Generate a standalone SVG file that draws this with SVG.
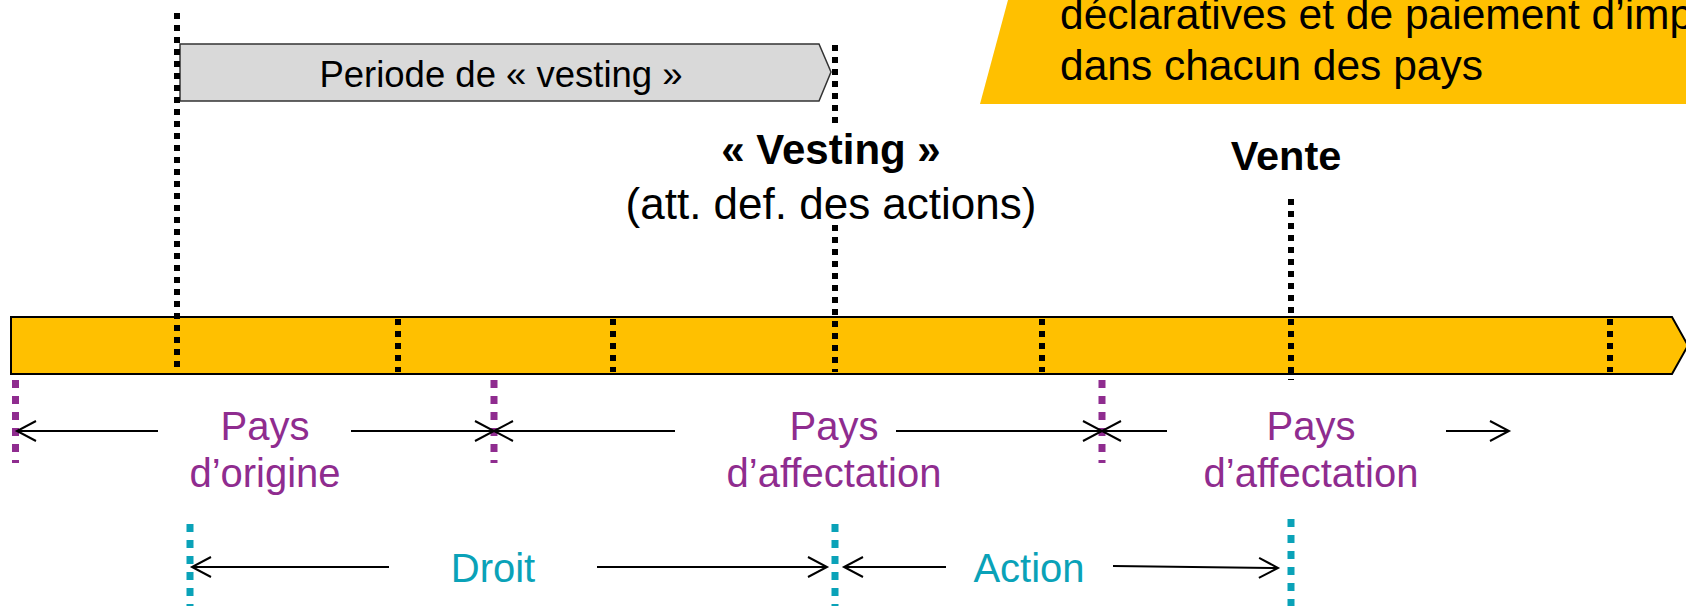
<svg xmlns="http://www.w3.org/2000/svg" width="1686" height="606" viewBox="0 0 1686 606">
<style>
text{font-family:"Liberation Sans",Arial,sans-serif}
.blk{fill:#000}
.pur{fill:#8F2C8F}
.teal{fill:#0AA2B8}
.dotb{stroke:#000;stroke-width:6;stroke-dasharray:6 6;fill:none}
.dotp{stroke:#8F2C8F;stroke-width:7;stroke-dasharray:8 8;fill:none}
.dott{stroke:#0AA2B8;stroke-width:7;stroke-dasharray:8 8;fill:none}
.arr{stroke:#000;stroke-width:2;fill:none;marker-end:url(#ah)}
</style>
<defs>
<marker id="ah" markerUnits="userSpaceOnUse" markerWidth="22" markerHeight="24" refX="20" refY="12" orient="auto" overflow="visible">
<path d="M1,2 L20,12 L1,22" fill="none" stroke="#000" stroke-width="2"/>
</marker>
</defs>
<rect width="1686" height="606" fill="#fff"/>

<g id="note">
<polygon points="1008,0 1686,0 1686,104 980,104" fill="#FFC000"/>
<text x="1060" y="29" font-size="42.5" class="blk">déclaratives et de paiement d’imp</text>
<text x="1060" y="80" font-size="42.5" class="blk">dans chacun des pays</text>
</g>

<g id="period-box">
<polygon points="180,44 819,44 831,72 819,101 180,101" fill="#D9D9D9" stroke="#333" stroke-width="1.5"/>
<text x="501" y="87" font-size="36.5" text-anchor="middle" class="blk">Periode de « vesting »</text>
</g>

<g id="timeline">
<polygon points="11,317 1672,317 1688,345.5 1672,374 11,374" fill="#FFC000" stroke="#000" stroke-width="2"/>
<line class="dotb" x1="398" y1="319" x2="398" y2="372"/>
<line class="dotb" x1="613" y1="319" x2="613" y2="372"/>
<line class="dotb" x1="1042" y1="319" x2="1042" y2="372"/>
<line class="dotb" x1="1610" y1="319" x2="1610" y2="372"/>
</g>

<g id="grant-line">
<line class="dotb" x1="177" y1="13" x2="177" y2="372"/>
</g>

<g id="vesting">
<line class="dotb" x1="835" y1="45" x2="835" y2="123"/>
<line class="dotb" x1="835" y1="225" x2="835" y2="372"/>
<text x="831" y="164" font-size="42" font-weight="bold" text-anchor="middle" class="blk">« Vesting »</text>
<text x="831" y="219" font-size="44" text-anchor="middle" class="blk">(att. def. des actions)</text>
</g>

<g id="vente">
<text x="1286" y="170" font-size="41.5" font-weight="bold" text-anchor="middle" class="blk">Vente</text>
<line class="dotb" x1="1291" y1="199" x2="1291" y2="380"/>
</g>

<g id="country-markers">
<line class="dotp" x1="15.5" y1="380" x2="15.5" y2="463"/>
<line class="dotp" x1="494" y1="380" x2="494" y2="463"/>
<line class="dotp" x1="1102" y1="380" x2="1102" y2="463"/>
</g>

<g id="pays-origine">
<text x="265" y="440" font-size="40" text-anchor="middle" class="pur">Pays</text>
<text x="265" y="487" font-size="40" text-anchor="middle" class="pur">d’origine</text>
</g>
<g id="pays-affectation-1">
<text x="834" y="440" font-size="40" text-anchor="middle" class="pur">Pays</text>
<text x="834" y="487" font-size="40" text-anchor="middle" class="pur">d’affectation</text>
</g>
<g id="pays-affectation-2">
<text x="1311" y="440" font-size="40" text-anchor="middle" class="pur">Pays</text>
<text x="1311" y="487" font-size="40" text-anchor="middle" class="pur">d’affectation</text>
</g>

<g id="asset-markers">
<line class="dott" x1="190" y1="524" x2="190" y2="606"/>
<line class="dott" x1="835" y1="524" x2="835" y2="606"/>
<line class="dott" x1="1291" y1="519" x2="1291" y2="606"/>
</g>

<g id="droit">
<text x="493" y="582" font-size="40" text-anchor="middle" class="teal">Droit</text>
</g>
<g id="action">
<text x="1029" y="582" font-size="40" text-anchor="middle" class="teal">Action</text>
</g>

<g id="connectors">
<line class="arr" x1="158" y1="431" x2="17" y2="431"/>
<line class="arr" x1="351" y1="431" x2="494" y2="431"/>
<line class="arr" x1="675" y1="431" x2="494" y2="431"/>
<line class="arr" x1="896" y1="431" x2="1102" y2="431"/>
<line class="arr" x1="1167" y1="431" x2="1102" y2="431"/>
<line class="arr" x1="1446" y1="431" x2="1509" y2="431"/>
<line class="arr" x1="389" y1="567" x2="192" y2="567"/>
<line class="arr" x1="597" y1="567" x2="827" y2="567"/>
<line class="arr" x1="946" y1="567" x2="844" y2="567"/>
<line class="arr" x1="1113" y1="566" x2="1278" y2="568"/>
</g>
</svg>
